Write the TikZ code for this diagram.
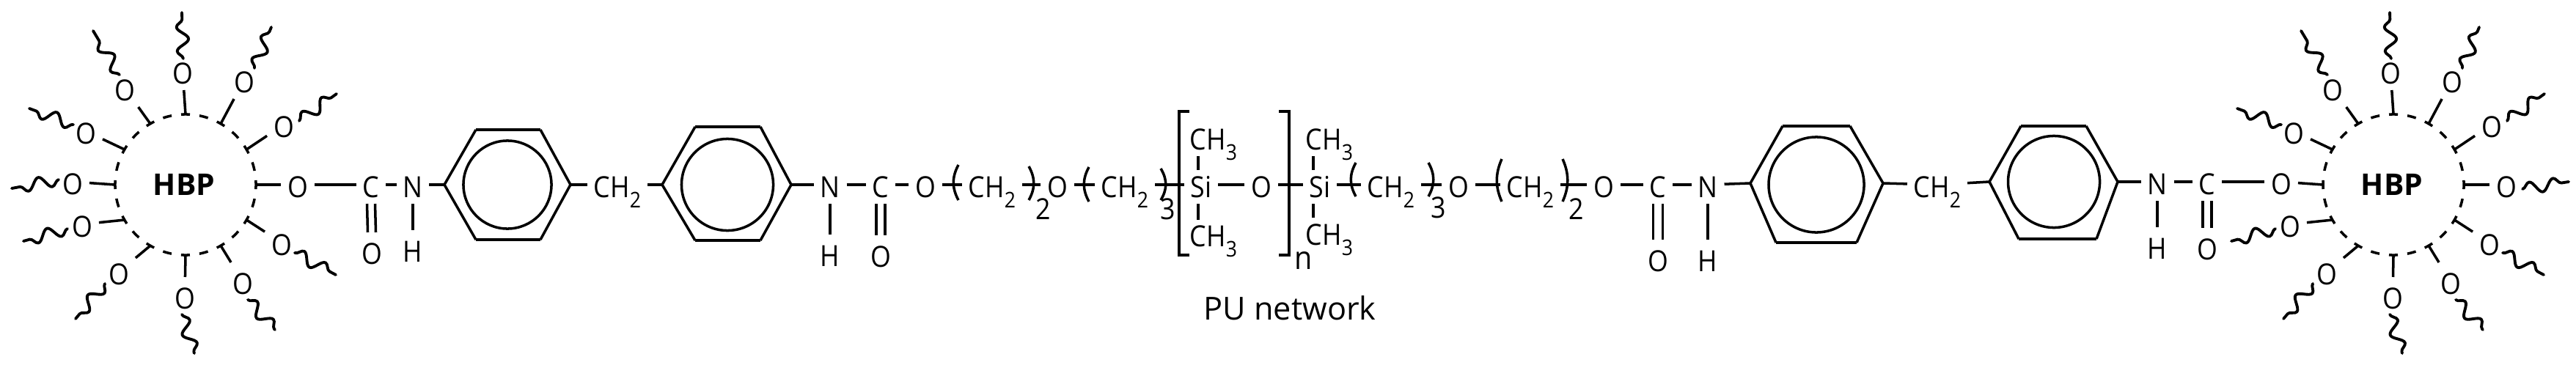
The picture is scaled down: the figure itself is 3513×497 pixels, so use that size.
\documentclass[tikz,border=0pt]{standalone}
\usepackage{fontspec}
\setmainfont{Open Sans}
\newfontfamily\atomfont[FakeStretch=0.9]{Open Sans}
\usetikzlibrary{decorations.pathmorphing}
\newcommand\lowsub[1]{\raisebox{-0.37em}{\fontsize{8.4}{9}\selectfont #1}}
\tikzset{
  atom/.style={inner sep=0.09cm,outer sep=0pt,font=\atomfont\fontsize{11.3}{12}\selectfont,text height=0.34cm,text depth=0pt},
  bigidx/.style={inner sep=0pt,font=\atomfont\fontsize{11.3}{12}\selectfont},
  bond/.style={line width=1pt},
  edgebold/.style={line width=1.4pt},
  squiggle/.style={line width=1.1pt,line cap=round,line join=round,decorate,decoration={snake,segment length=0.33cm,amplitude=0.08cm,post length=0pt,pre length=0pt}},
  hub/.style={circle,draw,line width=1pt,minimum size=1.92cm,inner sep=0pt,outer sep=0pt,
     dash pattern=on 0.12cm off 0.1313cm,dash phase=0.06cm},
  innerring/.style={circle,draw,line width=1pt,inner sep=0pt,outer sep=0pt},
}
% spoke: id, hub anchor angle, O position, wiggle start, wiggle end
\newcommand\spokeO[3]{\node[atom] (#1) at (#3) {O}; \draw[bond] (hb.#2) -- (#1);}
\newcommand\spoke[5]{\spokeO{#1}{#2}{#3}\coordinate (#1a) at (#4); \coordinate (#1b) at (#5); \draw[squiggle] (#1a) -- (#1b);}
\newcommand\hubcommon{%
  \node[hub] (hb) at (253,252) {};
  \node[font=\fontsize{11.6}{12}\selectfont\bfseries,inner sep=0pt] (hblabel) at (251,252) {HBP};
  \spoke{s1}{90}{249,97}{250,80}{248,17}
  \spoke{s2}{60}{333,109}{347,93}{370,37}
  \spoke{s3}{30}{387,170}{408,165}{459,128}
  \spoke{s5}{-30}{384,331}{402,345}{458,375}
  \spoke{s6}{-60}{331,384}{338,409}{375,450}
  \spoke{s7}{-90}{252,404}{248,429}{265,482}
  \spoke{s8}{-120}{162,371}{143,387}{103,435}
  \spoke{s9}{-150}{112,306}{92,312}{32,329}
  \spoke{s11}{150}{117,179}{100,170}{40,148}
  \spoke{s12}{120}{170,120}{163,102}{127,42}
}
\newcommand\benz[9]{% id, leftx, lefty, tlx, trx, rightx, brx, blx, topy ; uses \boty
  \coordinate (#1l) at (#2,#3); \coordinate (#1tl) at (#4,#9); \coordinate (#1tr) at (#5,#9);
  \coordinate (#1r) at (#6,#3); \coordinate (#1br) at (#7,\boty); \coordinate (#1bl) at (#8,\boty);
  \draw[bond,line join=round] (#1tr) -- (#1r) -- (#1br) (#1bl) -- (#1l) -- (#1tl);
  \draw[edgebold] (#1tl) -- (#1tr) (#1bl) -- (#1br);
}
\newcommand\lpar[3]{\draw[bond] (#1,#2) .. controls ({#1-9},{#2+(#3-#2)*0.35}) and ({#1-9},{#2+(#3-#2)*0.65}) .. (#1,#3);}
\newcommand\rpar[3]{\draw[bond] (#1,#2) .. controls ({#1+9},{#2+(#3-#2)*0.35}) and ({#1+9},{#2+(#3-#2)*0.65}) .. (#1,#3);}
\begin{document}
\begin{tikzpicture}[x=0.01cm,y=-0.01cm]
\useasboundingbox (0,0) rectangle (3513,497);
% left hub
\begin{scope}
  \hubcommon
  \spoke{s10}{180}{99,248}{80,245}{16,257}
  \spokeO{s4}{0}{406,252}
\end{scope}
\node[atom] (c1) at (506,252) {C};
\node[atom] (n1) at (563,252) {N};
\node[atom] (co1) at (507,343) {O};
\node[atom] (h1) at (563,340) {H};
\draw[bond] (s4) -- (c1);
\draw[bond] (c1) -- (n1);
\draw[bond] (n1) -- (h1);
\draw[bond] ([xshift=-0.055cm]c1.south) -- ([xshift=-0.055cm]co1.north) ([xshift=0.055cm]c1.south) -- ([xshift=0.055cm]co1.north);
\def\boty{327}
\benz{a}{606}{252}{649}{737}{778}{737}{649}{177}
\node[innerring,minimum size=1.2cm] (ai) at (692,252) {};
\draw[bond] (n1) -- (al);
\node[atom] (m1) at (842,252) {CH\lowsub{2}};
\draw[bond] (ar) -- (m1);
\def\boty{328}
\benz{b}{903}{252}{948}{1037}{1079}{1037}{948}{173}
\node[innerring,minimum size=1.25cm] (bi) at (992,252) {};
\draw[bond] (m1) -- (bl);
\node[atom] (n2) at (1132,252) {N};
\node[atom] (h2) at (1132,346) {H};
\node[atom] (c2) at (1201,252) {C};
\node[atom] (co2) at (1201,347) {O};
\node[atom] (o2) at (1262,252) {O};
\draw[bond] (br) -- (n2);
\draw[bond] (n2) -- (c2);
\draw[bond] (n2) -- (h2);
\draw[bond] ([xshift=-0.06cm]c2.south) -- ([xshift=-0.06cm]co2.north) ([xshift=0.06cm]c2.south) -- ([xshift=0.06cm]co2.north);
\draw[bond] (c2) -- (o2);
% spacer chain
\node[atom] (ch1) at (1353,252) {CH\lowsub{2}};
\node[atom] (o3) at (1442,252) {O};
\node[atom] (ch2) at (1534,252) {CH\lowsub{2}};
\node[atom] (si1) at (1638,252) {Si};
\node[atom] (o4) at (1720,252) {O};
\node[atom] (si2) at (1800,252) {Si};
\node[atom] (ch3) at (1897,252) {CH\lowsub{2}};
\node[atom] (o5) at (1989,252) {O};
\node[atom] (ch4) at (2087,252) {CH\lowsub{2}};
\node[atom] (o6) at (2187,252) {O};
\draw[bond] (o2) -- (ch1);
\draw[bond] (ch1) -- (o3);
\draw[bond] (o3) -- (ch2);
\draw[bond] (ch2) -- (si1);
\draw[bond] (si1) -- (o4);
\draw[bond] (o4) -- (si2);
\draw[bond] (si2) -- (ch3);
\draw[bond] (ch3) -- (o5);
\draw[bond] (o5) -- (ch4);
\draw[bond] (ch4) -- (o6);
\lpar{1307}{225}{273}
\rpar{1403}{227}{273}
\node[bigidx] (i1) at (1423,285) {2};
\lpar{1485}{228}{275}
\rpar{1583}{230}{273}
\node[bigidx] (i2) at (1593,285) {3};
\lpar{1849}{222}{268}
\rpar{1948}{222}{268}
\node[bigidx] (i3) at (1962,283) {3};
\lpar{2048}{217}{275}
\rpar{2131}{217}{275}
\node[bigidx] (i4) at (2150,285) {2};
% siloxane
\node[atom] (t1) at (1655,187) {CH\lowsub{3}};
\node[atom] (u1) at (1655,319) {CH\lowsub{3}};
\node[atom] (t2) at (1813,187) {CH\lowsub{3}};
\node[atom] (u2) at (1813,317) {CH\lowsub{3}};
\coordinate (ta) at (1634,213); \coordinate (tb) at (1634,232);
\coordinate (ua) at (1634,278); \coordinate (ub) at (1634,300);
\coordinate (va) at (1791,213); \coordinate (vb) at (1791,232);
\coordinate (wa) at (1791,278); \coordinate (wb) at (1791,297);
\draw[bond] (ta) -- (tb) (ua) -- (ub) (va) -- (vb) (wa) -- (wb);
\draw[line width=1.15pt] (1622,152) -- (1608,152) -- (1608,348) -- (1622,348);
\draw[line width=1.15pt] (1744,152) -- (1758,152) -- (1758,348) -- (1744,348);
\node[atom,font=\atomfont\fontsize{12.5}{13}\selectfont] (nn) at (1778,350) {n};
\node[font=\fontsize{12.3}{13}\selectfont,inner sep=0pt] (cap) at (1759,420) {PU network};
% right half
\node[atom] (c3) at (2261,252) {C};
\node[atom] (co3) at (2261,353) {O};
\node[atom] (n3) at (2329,252) {N};
\node[atom] (h3) at (2329,353) {H};
\draw[bond] (o6) -- (c3);
\draw[bond] (c3) -- (n3);
\draw[bond] (n3) -- (h3);
\draw[bond] ([xshift=-0.065cm]c3.south) -- ([xshift=-0.065cm]co3.north) ([xshift=0.065cm]c3.south) -- ([xshift=0.065cm]co3.north);
\def\boty{331}
\benz{c}{2387}{250}{2431}{2523}{2568}{2532}{2422}{172}
\node[innerring,minimum width=1.3cm,minimum height=1.28cm] (ci) at (2477,252) {};
\draw[bond] (n3) -- (cl);
\node[atom] (m2) at (2642,252) {CH\lowsub{2}};
\draw[bond] (cr) -- (m2);
\def\boty{326}
\benz{d}{2713}{248}{2756}{2845}{2888}{2859}{2753}{172}
\node[innerring,minimum size=1.25cm] (di) at (2801,248) {};
\draw[bond] (m2) -- (dl);
\node[atom] (n4) at (2942,248) {N};
\node[atom] (h4) at (2942,336) {H};
\node[atom] (c4) at (3010,248) {C};
\node[atom] (co4) at (3010,337) {O};
\draw[bond] (dr) -- (n4);
\draw[bond] (n4) -- (c4);
\draw[bond] (n4) -- (h4);
\draw[bond] ([xshift=-0.06cm]c4.south) -- ([xshift=-0.06cm]co4.north) ([xshift=0.06cm]c4.south) -- ([xshift=0.06cm]co4.north);
\begin{scope}[shift={(3011,0)}]
  \hubcommon
  \spokeO{s10}{180}{100,248}
  \spoke{s4}{0}{407,252}{429,258}{492,248}
\end{scope}
\draw[bond] (c4) -- (s10);
\end{tikzpicture}
\end{document}
